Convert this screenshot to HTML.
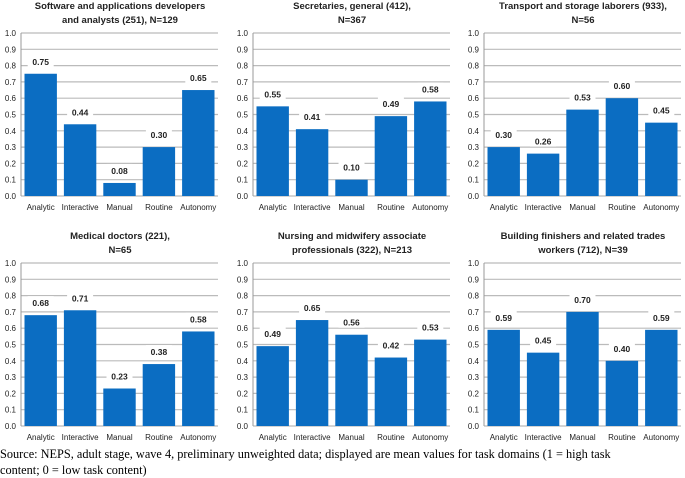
<!DOCTYPE html>
<html><head><meta charset="utf-8"><style>
body{margin:0;background:#fff;width:685px;height:477px;overflow:hidden;font-family:"Liberation Sans",sans-serif}
#src{position:absolute;left:0;top:446px;font-family:"Liberation Serif",serif;font-size:12.3px;line-height:16px;color:#000}
</style></head><body>
<svg id="c" width="685" height="445" style="position:absolute;left:0;top:0"></svg>
<div id="src">Source: NEPS, adult stage, wave 4, preliminary unweighted data; displayed are mean values for task domains (1 = high task<br>content; 0 = low task content)</div>
<script>
const categories=["Analytic","Interactive","Manual","Routine","Autonomy"];
const titles=[["Software and applications developers","and analysts (251), N=129"],["Secretaries, general (412),","N=367"],["Transport and storage laborers (933),","N=56"],["Medical doctors (221),","N=65"],["Nursing and midwifery associate","professionals (322), N=213"],["Building finishers and related trades","workers (712), N=39"]];
const values0=[0.75,0.44,0.08,0.30,0.65];
const values1=[0.55,0.41,0.10,0.49,0.58];
const values2=[0.30,0.26,0.53,0.60,0.45];
const values3=[0.68,0.71,0.23,0.38,0.58];
const values4=[0.49,0.65,0.56,0.42,0.53];
const values5=[0.59,0.45,0.70,0.40,0.59];
const series=[values0,values1,values2,values3,values4,values5];
const ticks=[0,0.1,0.2,0.3,0.4,0.5,0.6,0.7,0.8,0.9,1.0];
const NS="http://www.w3.org/2000/svg";
const svg=document.getElementById('c');
function mk(t,a,p){const e=document.createElementNS(NS,t);for(const k in a)e.setAttribute(k,a[k]);(p||svg).appendChild(e);return e;}
series.forEach((vals,i)=>{
  const ox=[0,232,463][i%3], oy=i<3?0:230;
  const x0=ox+21,x1=ox+218,yTop=oy+33,yBot=oy+196;
  const g=mk('g',{});
  
  
  const y=v=>yBot-v*(yBot-yTop);
  titles[i].forEach((t,j)=>{const e=mk('text',{x:ox+120,y:oy+9+j*14,'text-anchor':'middle','font-size':'9.5','font-weight':'bold',fill:'#222'},g);e.textContent=t;});
  ticks.forEach(t=>{
    mk('line',{x1:x0,x2:x1,y1:y(t),y2:y(t),stroke:'#bbb','stroke-width':1.2},g);
    const e=mk('text',{x:x0-5,y:y(t)+3,'text-anchor':'end','font-size':'8',fill:'#222'},g);e.textContent=t.toFixed(1);
    
  });
  mk('line',{x1:x0,x2:x0,y1:yTop,y2:yBot,stroke:'#999'},g);
  const bw=(x1-x0)/categories.length;
  categories.forEach((c,k)=>{
    const bx=x0+k*bw+3.5,w=bw-7,v=vals[k];
    const r=mk('rect',{x:bx,y:y(v),width:w,height:yBot-y(v),fill:'#0b6dc2'},g);
    
    
    mk('rect',{x:bx+w/2-13,y:y(v)-19,width:26,height:12,fill:'#fff'},g);
    const l=mk('text',{x:bx+w/2,y:y(v)-9,'text-anchor':'middle','font-size':'8.5','font-weight':'bold',fill:'#222'},g);l.textContent=v.toFixed(2);
    
    const cl=mk('text',{x:x0+k*bw+bw/2,y:yBot+14,'text-anchor':'middle','font-size':'8',fill:'#222'},g);cl.textContent=c;
    
  });
});
</script>
</body></html>
